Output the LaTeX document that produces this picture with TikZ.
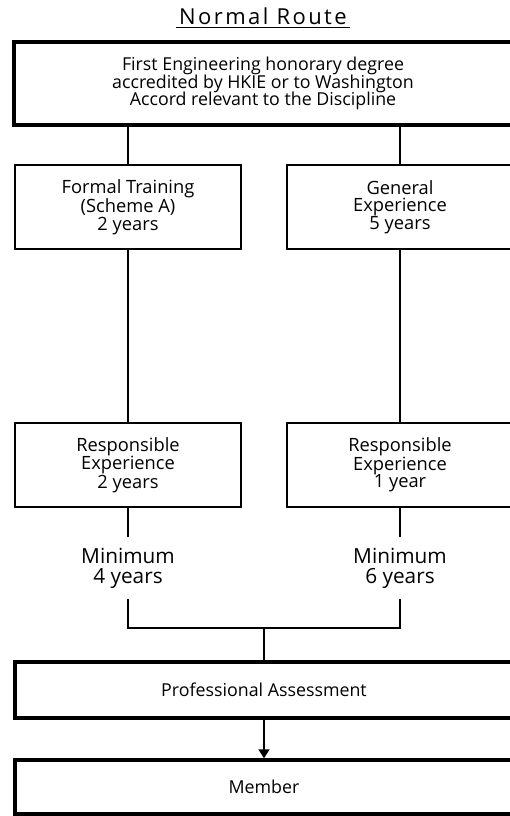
\documentclass[tikz,border=0pt]{standalone}
\usepackage{fontspec}
\setmainfont{Open Sans}
\usetikzlibrary{arrows.meta}
\begin{document}
\begin{tikzpicture}[x=1pt,y=-1pt,
  widebox/.style={draw, line width=3.5pt, minimum width=498pt, inner sep=0pt, align=center, font=\fontsize{17.8}{17.8}\selectfont},
  stagebox/.style={draw, line width=1.8pt, minimum width=226pt, minimum height=84pt, inner sep=0pt, align=center, font=\fontsize{18.3}{17.6}\selectfont},
  mintext/.style={minimum height=62pt, inner sep=0pt, align=center, font=\fontsize{20.8}{20}\selectfont},
  link/.style={line width=2pt}]
\useasboundingbox (0,0) rectangle (510,816);

% title
\node[font=\fontsize{22}{22}\selectfont\addfontfeatures{LetterSpace=11}] (title) at (263,16) {Normal Route};
\draw[line width=1.4pt] ([yshift=-3.5pt]title.base west) -- ([yshift=-3.5pt]title.base east);

% boxes
\node[widebox, minimum height=83pt] (degree) at (263,83.5) {First Engineering honorary degree\\accredited by HKIE or to Washington\\Accord relevant to the Discipline};
\node[stagebox] (formal) at (128,207) {Formal Training\\(Scheme A)\\2 years};
\node[stagebox] (general) at (400,207) {General\\Experience\\5 years};
\node[stagebox] (respL) at (128,465) {Responsible\\Experience\\2 years};
\node[stagebox] (respR) at (400,465) {Responsible\\Experience\\1 year};
\node[mintext] (minL) at (128,568) {Minimum\\4 years};
\node[mintext] (minR) at (400,568) {Minimum\\6 years};
\coordinate (join) at (264,628);
\node[widebox, minimum height=56pt] (assess) at (264,690) {Professional Assessment};
\node[widebox, minimum height=54pt] (member) at (264,787) {Member};

% connectors
\draw[link] (degree.south -| formal.north) -- (formal.north);
\draw[link] (degree.south -| general.north) -- (general.north);
\draw[link] (formal) -- (respL);
\draw[link] (general) -- (respR);
\draw[link] (respL) -- (minL);
\draw[link] (respR) -- (minR);
\draw[link] (minL.south) |- (join) -| (minR.south);
\draw[link] (join) -- (assess.north);
\draw[link, -{Triangle[width=11pt, length=9pt]}] (assess) -- (member);
\end{tikzpicture}
\end{document}
